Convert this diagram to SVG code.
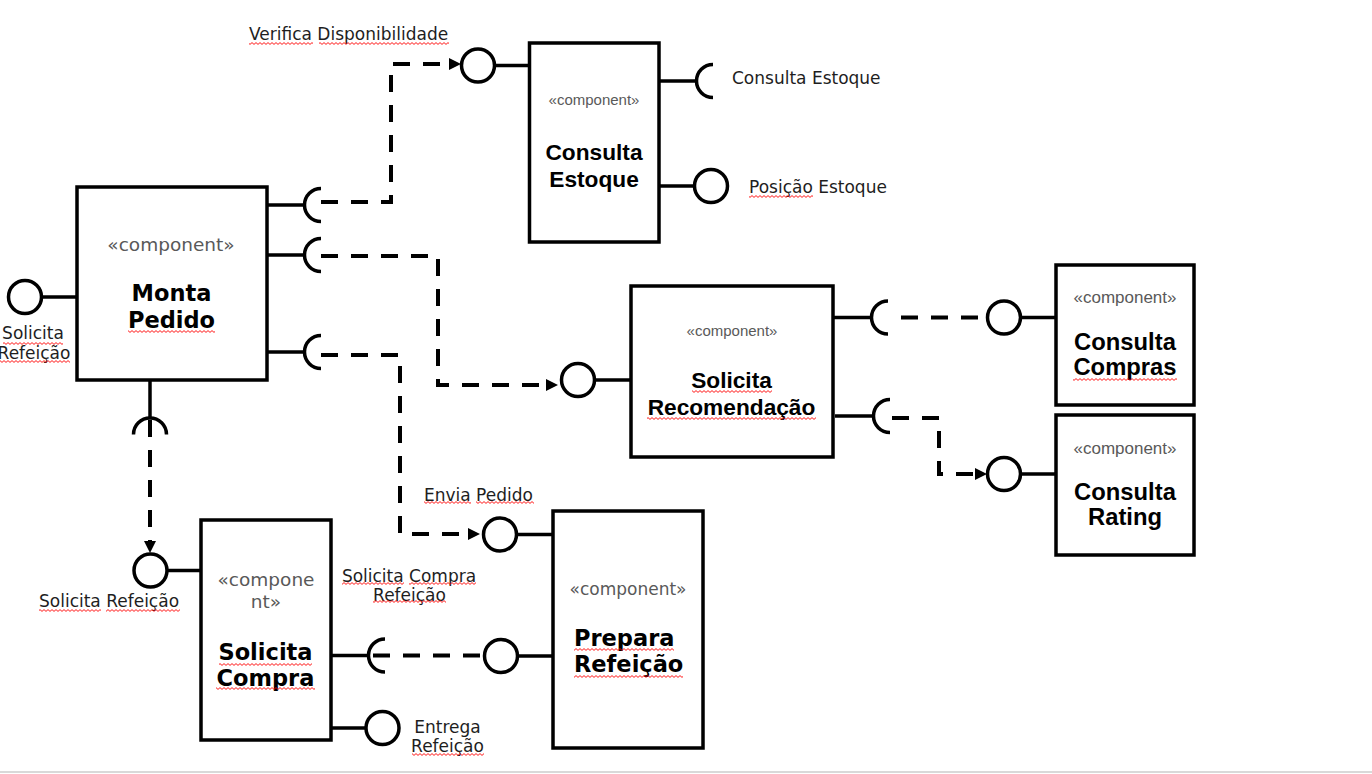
<svg xmlns="http://www.w3.org/2000/svg" width="1372" height="774" viewBox="0 0 1372 774">
<defs>
<style>
.box{fill:#fff;stroke:#000;stroke-width:3.5}
.ln{fill:none;stroke:#000;stroke-width:3.5}
.ic{fill:#fff;stroke:#000;stroke-width:3.5}
.dash{fill:none;stroke:#000;stroke-width:4;stroke-dasharray:17 13}
.stv{font-family:"DejaVu Sans",Verdana,sans-serif;fill:#595959;text-anchor:middle}
.sta{font-family:"Liberation Sans",Arial,sans-serif;fill:#595959;text-anchor:middle}
.nv{font-family:"DejaVu Sans",Verdana,sans-serif;font-weight:bold;font-size:22.5px;fill:#000;text-anchor:middle}
.nvs{font-family:"DejaVu Sans",Verdana,sans-serif;font-weight:bold;font-size:22.5px;fill:#000;text-anchor:start}
.na{font-family:"Liberation Sans",Arial,sans-serif;font-weight:bold;fill:#000;text-anchor:middle}
.lb{font-family:"DejaVu Sans",Verdana,sans-serif;font-size:17px;fill:#1e1e1e}
.sq{fill:url(#sq)}
</style>
<pattern id="sq" width="4" height="3" patternUnits="userSpaceOnUse"><path d="M0,0.6 L2,2.4 L4,0.6" fill="none" stroke="#f00" stroke-width="0.9"/></pattern>
<marker id="ar" markerUnits="userSpaceOnUse" markerWidth="12" markerHeight="12" viewBox="0 0 12 12" refX="0" refY="6" orient="auto"><path d="M0,0 L12,6 L0,12 z" fill="#000"/></marker>
</defs>
<rect width="1372" height="774" fill="#fff"/>
<line x1="0" y1="772" x2="1372" y2="772" stroke="#cccccc" stroke-width="1.5"/>

<g id="connectors">
<path class="dash" d="M321,202 H391 V64 H449" marker-end="url(#ar)"/>
<path class="dash" d="M321,256 H438 V385 H546" marker-end="url(#ar)"/>
<path class="dash" d="M321,355 H400 V534 H468" marker-end="url(#ar)"/>
<path class="dash" d="M150,420 V541" marker-end="url(#ar)"/>
<path class="dash" d="M901,317.5 H987"/>
<path class="dash" d="M892,418 H939 V474 H975" marker-end="url(#ar)"/>
<path class="dash" d="M373,655.5 H484"/>
</g>

<g id="monta-pedido">
<rect class="box" x="77" y="187" width="190" height="193"/>
<line class="ln" x1="41.5" y1="297" x2="77" y2="297"/>
<circle class="ic" cx="25" cy="297" r="16.5"/>
<line class="ln" x1="267" y1="205" x2="304.5" y2="205"/>
<path class="ln" d="M321,188.5 A16.5,16.5 0 0 0 321,221.5"/>
<line class="ln" x1="267" y1="255" x2="304.5" y2="255"/>
<path class="ln" d="M321,238.5 A16.5,16.5 0 0 0 321,271.5"/>
<line class="ln" x1="267" y1="352" x2="304.5" y2="352"/>
<path class="ln" d="M321,335.5 A16.5,16.5 0 0 0 321,368.5"/>
<line class="ln" x1="150" y1="380" x2="150" y2="418"/>
<path class="ln" d="M133.5,434.5 A16.5,16.5 0 0 1 166.5,434.5"/>
<text class="stv" x="171" y="250.5" font-size="18.5">«component»</text>
<text class="nv" x="171.5" y="300.5">Monta</text>
<text class="nv" x="171.5" y="327.5">Pedido</text>
<rect class="sq" x="128" y="330" width="87" height="3"/>
<text class="lb" x="33" y="339" text-anchor="middle">Solicita</text>
<text class="lb" x="34" y="359" text-anchor="middle">Refeição</text>
<rect class="sq" x="3" y="342" width="60" height="3"/>
<rect class="sq" x="-3" y="360" width="73" height="3"/>
</g>

<g id="consulta-estoque">
<rect class="box" x="529.5" y="43" width="129.5" height="199"/>
<line class="ln" x1="494.5" y1="65.5" x2="529.5" y2="65.5"/>
<circle class="ic" cx="478" cy="65.5" r="16.5"/>
<line class="ln" x1="659" y1="81" x2="696.5" y2="81"/>
<path class="ln" d="M713,64.5 A16.5,16.5 0 0 0 713,97.5"/>
<line class="ln" x1="659" y1="186" x2="694.5" y2="186"/>
<circle class="ic" cx="711" cy="186" r="16.5"/>
<text class="sta" x="594" y="105" font-size="15">«component»</text>
<text class="na" x="594" y="160" font-size="22.7">Consulta</text>
<text class="na" x="594" y="187" font-size="22.7">Estoque</text>
<text class="lb" x="249" y="40">Verifica Disponibilidade</text>
<rect class="sq" x="249" y="42" width="64" height="3"/>
<rect class="sq" x="319" y="42" width="130" height="3"/>
<text class="lb" x="732" y="84">Consulta Estoque</text>
<text class="lb" x="749" y="193">Posição Estoque</text>
<rect class="sq" x="749" y="195" width="64" height="3"/>
</g>

<g id="solicita-recomendacao">
<rect class="box" x="631" y="286" width="202" height="171"/>
<line class="ln" x1="594.5" y1="380" x2="631" y2="380"/>
<circle class="ic" cx="578" cy="380" r="16.5"/>
<line class="ln" x1="833" y1="317.5" x2="871.5" y2="317.5"/>
<path class="ln" d="M888,301 A16.5,16.5 0 0 0 888,334"/>
<line class="ln" x1="835" y1="416" x2="873.5" y2="416"/>
<path class="ln" d="M890,399.5 A16.5,16.5 0 0 0 890,432.5"/>
<text class="sta" x="732" y="336" font-size="15">«component»</text>
<text class="na" x="731.5" y="387.5" font-size="22.7">Solicita</text>
<text class="na" x="731.5" y="414.5" font-size="22.7">Recomendação</text>
<rect class="sq" x="692" y="390" width="80" height="3"/>
<rect class="sq" x="647" y="417" width="169" height="3"/>
</g>

<g id="consulta-compras">
<rect class="box" x="1056" y="265" width="138" height="140"/>
<line class="ln" x1="1020.5" y1="317.5" x2="1056" y2="317.5"/>
<circle class="ic" cx="1004" cy="317.5" r="16.5"/>
<text class="sta" x="1125" y="303" font-size="17">«component»</text>
<text class="na" x="1125" y="349.5" font-size="23.8">Consulta</text>
<text class="na" x="1125" y="375" font-size="23.8">Compras</text>
<rect class="sq" x="1073" y="378" width="104" height="3"/>
</g>

<g id="consulta-rating">
<rect class="box" x="1056" y="415" width="138" height="140"/>
<line class="ln" x1="1020.5" y1="474" x2="1056" y2="474"/>
<circle class="ic" cx="1004" cy="474" r="16.5"/>
<text class="sta" x="1125" y="453.5" font-size="17">«component»</text>
<text class="na" x="1125" y="499.5" font-size="23.8">Consulta</text>
<text class="na" x="1125" y="525" font-size="23.8">Rating</text>
</g>

<g id="solicita-compra">
<rect class="box" x="201" y="520" width="130" height="220"/>
<line class="ln" x1="167" y1="570.5" x2="201" y2="570.5"/>
<circle class="ic" cx="150.5" cy="570.5" r="16.5"/>
<line class="ln" x1="331" y1="655.5" x2="368.5" y2="655.5"/>
<path class="ln" d="M385,639 A16.5,16.5 0 0 0 385,672"/>
<line class="ln" x1="331" y1="728" x2="366" y2="728"/>
<circle class="ic" cx="382.5" cy="728" r="16.5"/>
<text class="stv" x="266" y="586" font-size="18.5">«compone</text>
<text class="stv" x="266" y="608" font-size="18.5">nt»</text>
<text class="nv" x="265.5" y="660">Solicita</text>
<text class="nv" x="265.5" y="685.5">Compra</text>
<rect class="sq" x="219" y="663" width="93" height="3"/>
<rect class="sq" x="216" y="687" width="99" height="3"/>
<text class="lb" x="39" y="606.5">Solicita Refeição</text>
<rect class="sq" x="39" y="609" width="62" height="3"/>
<rect class="sq" x="106" y="609" width="74" height="3"/>
<text class="lb" x="409" y="581.5" text-anchor="middle">Solicita Compra</text>
<text class="lb" x="409.5" y="600.5" text-anchor="middle">Refeição</text>
<rect class="sq" x="342" y="582" width="62" height="3"/>
<rect class="sq" x="409" y="582" width="67" height="3"/>
<rect class="sq" x="373" y="600" width="73" height="3"/>
<text class="lb" x="447.5" y="732.5" text-anchor="middle">Entrega</text>
<text class="lb" x="447.5" y="751.5" text-anchor="middle">Refeição</text>
<rect class="sq" x="412" y="753" width="72" height="3"/>
</g>

<g id="prepara-refeicao">
<rect class="box" x="553" y="511" width="150" height="237"/>
<line class="ln" x1="516.5" y1="534.5" x2="553" y2="534.5"/>
<circle class="ic" cx="500" cy="534.5" r="16.5"/>
<line class="ln" x1="517.5" y1="656" x2="553" y2="656"/>
<circle class="ic" cx="501" cy="656" r="16.5"/>
<text class="stv" x="628" y="595" font-size="17">«component»</text>
<text class="nvs" x="574" y="645.5">Prepara</text>
<text class="nvs" x="574" y="671.5">Refeição</text>
<rect class="sq" x="574" y="648" width="100" height="3"/>
<rect class="sq" x="574" y="675" width="109" height="3"/>
<text class="lb" x="424" y="500.5">Envia Pedido</text>
<rect class="sq" x="424" y="501" width="47" height="3"/>
<rect class="sq" x="476" y="501" width="58" height="3"/>
</g>
</svg>
